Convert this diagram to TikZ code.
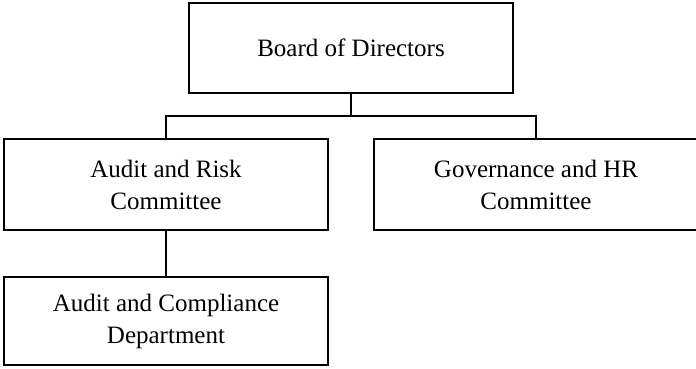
\documentclass[tikz,border=0pt]{standalone}
\usepackage{fontspec}
\setmainfont{Liberation Serif}
\begin{document}
\begin{tikzpicture}[x=1pt,y=1pt,
  orgbox/.style={draw=black, line width=1.6pt, fill=white, minimum width=324pt, align=center, inner sep=0pt,
    font=\fontsize{25}{32}\selectfont},
  link/.style={draw=black, line width=1.6pt}]
\useasboundingbox (0,0) rectangle (696,-368);
\node[orgbox, minimum height=90pt] (board) at (351,-48) {Board of Directors};
\node[orgbox, minimum height=91pt] (ar) at (166,-184.5) {Audit and Risk\\Committee};
\node[orgbox, minimum height=91pt] (gov) at (536,-184.5) {Governance and HR\\Committee};
\node[orgbox, minimum height=88pt] (acd) at (166,-321) {Audit and Compliance\\Department};
\coordinate (j) at (351,-116);
\draw[link] (board.south) -- (j);
\draw[link] (ar.north) |- (j) -| (gov.north);
\draw[link] (ar.south) -- (acd.north);
\end{tikzpicture}
\end{document}
